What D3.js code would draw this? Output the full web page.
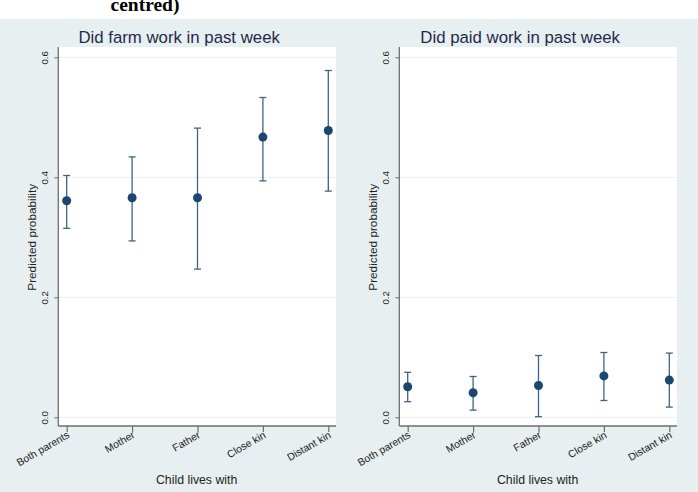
<!DOCTYPE html>
<html>
<head>
<meta charset="utf-8">
<title></title>
<script src="https://d3js.org/d3.v7.min.js"></script>
<style type="text/css">
	body { margin: 0; background: #fff; }
	text { font-family: "Liberation Sans", Arial, sans-serif; }
</style>
</head>
<body>
<script type="text/javascript">

// categories and values
var categories = ["Both parents", "Mother", "Father", "Close kin", "Distant kin"];

var farmEst = [0.361, 0.366, 0.366, 0.467, 0.478];
var farmLo  = [0.315, 0.294, 0.247, 0.394, 0.377];
var farmHi  = [0.403, 0.434, 0.482, 0.533, 0.578];

var paidEst = [0.051, 0.041, 0.053, 0.069, 0.062];
var paidLo  = [0.026, 0.012, 0.001, 0.028, 0.017];
var paidHi  = [0.075, 0.068, 0.103, 0.108, 0.107];

var yTicks = [0, 0.2, 0.4, 0.6];

var panels = [
	{title: "Did farm work in past week", est: farmEst, lo: farmLo, hi: farmHi},
	{title: "Did paid work in past week", est: paidEst, lo: paidLo, hi: paidHi}
];

var width = 698,
	height = 492;

var svg = d3.select('body').append('svg')
	.attr('width', width)
	.attr('height', height)

// bit of caption cut off at the top
svg.append('text')
	.attr('x', 145)
	.attr('y', 10.5)
	.attr('text-anchor', 'middle')
	.style('font-family', '"Liberation Serif", "Times New Roman", serif')
	.style('font-weight', 'bold')
	.style('font-size', '19.5px')
	.text('centred)')

svg.append('rect')
	.attr('x', 0).attr('y', 19)
	.attr('width', width).attr('height', height - 19)
	.attr('fill', '#e8eff0')

var axisColor = '#6e6e6e',
	markColor = '#1a476f',
	barColor = '#3e6486';

panels.forEach(function(p, k) {
	var off = k * 341;
	var left = 58.3 + off,
		right = 336 + off,
		top = 47,
		bottom = 426;

	var x = d3.scalePoint()
		.domain(categories)
		.range([66.7 + off, 328.3 + off])

	var y = d3.scaleLinear()
		.domain([0, 0.6])
		.range([417.3, 57.3])

	var g = svg.append('g')

	g.append('rect')
		.attr('x', left).attr('y', top)
		.attr('width', right - left).attr('height', bottom - top)
		.attr('fill', '#fff')

	// grid
	g.selectAll('.grid')
		.data(yTicks)
		.enter().append('line')
		.attr('x1', left).attr('x2', right)
		.attr('y1', function(d) { return y(d); })
		.attr('y2', function(d) { return y(d); })
		.attr('stroke', '#eceff0')
		.attr('stroke-width', 1)

	// y axis
	var yAxis = d3.axisLeft(y)
		.tickValues(yTicks)
		.tickFormat(d3.format('.1f'))
		.tickSize(4)
		.tickSizeOuter(0)

	var ya = g.append('g')
		.attr('transform', 'translate(' + left + ',0)')
		.call(yAxis)
	ya.select('.domain').remove()
	ya.selectAll('.tick line').attr('stroke', axisColor)
	ya.selectAll('.tick text')
		.attr('x', null).attr('dy', null)
		.attr('transform', 'translate(-10,0) rotate(-90)')
		.attr('text-anchor', 'middle')
		.attr('y', 0)
		.attr('fill', '#222')
		.style('font-size', '9.8px')
	g.append('line')
		.attr('x1', left).attr('x2', left)
		.attr('y1', top).attr('y2', bottom)
		.attr('stroke', axisColor).attr('stroke-width', 1.3)

	// x axis
	var xAxis = d3.axisBottom(x)
		.tickSize(6)
		.tickSizeOuter(0)

	var xa = g.append('g')
		.attr('transform', 'translate(0,' + bottom + ')')
		.call(xAxis)
	xa.select('.domain').remove()
	xa.selectAll('.tick line').attr('stroke', axisColor).attr('stroke-width', 1.2)
	xa.selectAll('.tick text')
		.attr('y', 0).attr('dy', null)
		.attr('transform', 'translate(3,11) rotate(-30)')
		.attr('text-anchor', 'end')
		.attr('fill', '#222')
		.style('font-size', '10.4px')
	g.append('line')
		.attr('x1', left).attr('x2', right)
		.attr('y1', bottom).attr('y2', bottom)
		.attr('stroke', axisColor).attr('stroke-width', 1.3)

	// titles
	g.append('text')
		.attr('x', (left + right) / 2 - 18)
		.attr('y', 43)
		.attr('text-anchor', 'middle')
		.attr('fill', '#1f2b4a')
		.style('font-size', '16.8px')
		.text(p.title)

	g.append('text')
		.attr('x', (left + right) / 2 - 0.5)
		.attr('y', 484)
		.attr('text-anchor', 'middle')
		.attr('fill', '#222')
		.style('font-size', '12.3px')
		.text('Child lives with')

	g.append('text')
		.attr('transform', 'translate(' + (36 + off) + ',' + y(0.3) + ') rotate(-90)')
		.attr('text-anchor', 'middle')
		.attr('fill', '#222')
		.style('font-size', '11.8px')
		.text('Predicted probability')

	// error bars
	var rows = categories.map(function(c, i) {
		return {cat: c, est: p.est[i], lo: p.lo[i], hi: p.hi[i]};
	});

	var bars = g.selectAll('.bar')
		.data(rows)
		.enter().append('g')
		.attr('stroke', barColor)
		.attr('stroke-width', 1.3)

	bars.append('line')
		.attr('x1', function(d) { return x(d.cat); })
		.attr('x2', function(d) { return x(d.cat); })
		.attr('y1', function(d) { return y(d.lo); })
		.attr('y2', function(d) { return y(d.hi); })
	bars.append('line')
		.attr('x1', function(d) { return x(d.cat) - 3.5; })
		.attr('x2', function(d) { return x(d.cat) + 3.5; })
		.attr('y1', function(d) { return y(d.lo); })
		.attr('y2', function(d) { return y(d.lo); })
	bars.append('line')
		.attr('x1', function(d) { return x(d.cat) - 3.5; })
		.attr('x2', function(d) { return x(d.cat) + 3.5; })
		.attr('y1', function(d) { return y(d.hi); })
		.attr('y2', function(d) { return y(d.hi); })

	g.selectAll('.pt')
		.data(rows)
		.enter().append('circle')
		.attr('cx', function(d) { return x(d.cat); })
		.attr('cy', function(d) { return y(d.est); })
		.attr('r', 4.5)
		.attr('fill', markColor)
});

</script>
</body>
</html>
